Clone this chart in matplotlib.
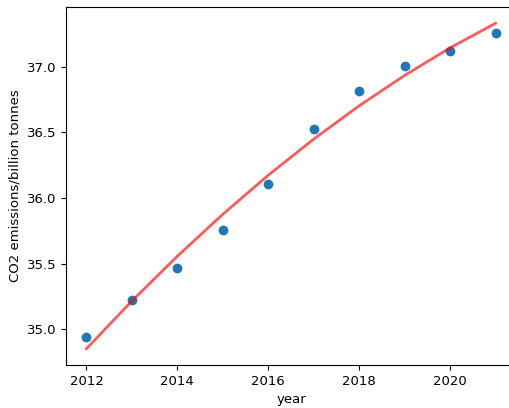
import numpy as np
import matplotlib
matplotlib.use("Agg")
import matplotlib.pyplot as plt

years = [2012, 2013, 2014, 2015, 2016, 2017, 2018, 2019, 2020, 2021]
emissions = [34.94, 35.22, 35.47, 35.76, 36.11, 36.53, 36.82, 37.01, 37.12, 37.26]

# quadratic trend through the yearly values
coef = np.polyfit(years, emissions, 2)
trend = np.polyval(coef, years)

plt.rcParams["font.size"] = 9.5

fig = plt.figure(figsize=(5.09, 4.08), dpi=100)
ax = fig.add_axes([66 / 509, 43 / 408, 450 / 509, 358 / 408])

ax.scatter(years, emissions, s=36, color="#1f77b4", zorder=2)
ax.plot(years, trend, color="red", alpha=0.65, linewidth=2, zorder=3)

ax.set_xlabel("year")
ax.set_ylabel("CO2 emissions/billion tonnes")
ax.set_xticks([2012, 2014, 2016, 2018, 2020])
ax.set_yticks([35.0, 35.5, 36.0, 36.5, 37.0])
ax.spines["right"].set_visible(False)

fig.savefig("out.png", dpi=100)
